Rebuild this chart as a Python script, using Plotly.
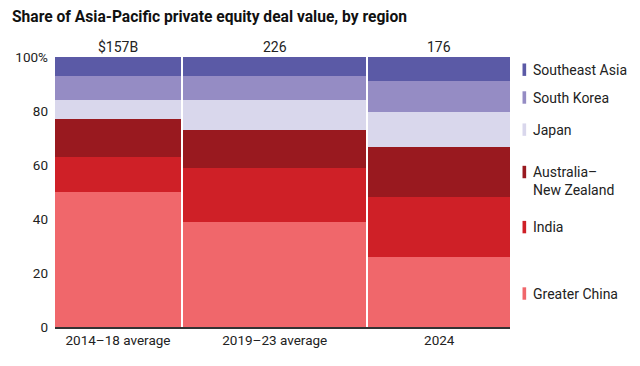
import plotly.graph_objects as go

# Data
categories = ["2014–18 average", "2019–23 average", "2024"]
totals = [157, 226, 176]               # total deal value, $B (bar widths)
total_labels = ["$157B", "226", "176"]
regions = ["Greater China", "India", "Australia–<br>New Zealand", "Japan", "South Korea", "Southeast Asia"]
shares = {
    "Greater China":  [50, 39, 26],
    "India":          [13, 20, 22],
    "Australia–<br>New Zealand": [14, 14, 18.5],
    "Japan":          [7, 11, 13],
    "South Korea":    [9, 9, 11.5],
    "Southeast Asia": [7, 7, 9],
}
colors = {
    "Greater China": "#f0676b",
    "India": "#cf2027",
    "Australia–<br>New Zealand": "#99191f",
    "Japan": "#d9d7ec",
    "South Korea": "#958cc4",
    "Southeast Asia": "#5b5aa6",
}
# legend label positions (in % units of the y axis)
legend_text_y = {
    "Southeast Asia": 95.3,
    "South Korea": 85.0,
    "Japan": 73.1,
    "Australia–<br>New Zealand": 54.2,
    "India": 37.0,
    "Greater China": 12.4,
}
legend_mark_y = {
    "Southeast Asia": 95.3,
    "South Korea": 85.0,
    "Japan": 73.1,
    "Australia–<br>New Zealand": 57.4,
    "India": 37.0,
    "Greater China": 12.4,
}

FONT = "Roboto"
TXT = "#222222"
gap = 3.0  # x-units of white gap between bars

starts = []
acc = 0
for t in totals:
    starts.append(acc)
    acc += t
total_sum = acc
mids = [s + t / 2 for s, t in zip(starts, totals)]

fig = go.Figure()
for r in regions:
    fig.add_trace(go.Bar(
        x=mids,
        y=shares[r],
        width=[t - gap for t in totals],
        offset=[-(t - gap) / 2 for t in totals],
        marker=dict(color=colors[r], line=dict(width=0)),
        name=r,
        showlegend=False,
        hoverinfo="skip",
    ))

annotations = []
for m, lab in zip(mids, total_labels):
    annotations.append(dict(x=m, y=100, xref="x", yref="y", text=lab, showarrow=False,
                            yanchor="bottom", yshift=0, font=dict(family=FONT, size=14, color=TXT)))

for r in regions:
    annotations.append(dict(x=1.0, y=legend_text_y[r], xref="paper", yref="y", text=r, showarrow=False,
                            xanchor="left", yanchor="middle", xshift=21,
                            align="left",
                            font=dict(family=FONT, size=14, color=TXT)))

shapes = []
for r in regions:
    ym = legend_mark_y[r]
    shapes.append(dict(type="rect", xref="paper", yref="y", x0=1.0275, x1=1.0355,
                       y0=ym - 2.3, y1=ym + 2.3, fillcolor=colors[r], line=dict(width=0)))

fig.update_layout(
    width=640, height=366,
    margin=dict(l=47, r=138, t=49, b=47, autoexpand=False),
    paper_bgcolor="white", plot_bgcolor="white",
    barmode="stack", bargap=0,
    title=dict(text="<b>Share of Asia-Pacific private equity deal value, by region</b>",
               x=4 / 640, xref="container", xanchor="left", y=1 - 8.5 / 366, yanchor="middle",
               font=dict(family=FONT, size=15.6, color="#111111"), pad=dict(l=0, t=0, b=0)),
    annotations=annotations,
    shapes=shapes,
    font=dict(family=FONT, size=13, color=TXT),
)

fig.update_xaxes(range=[gap / 2, total_sum - gap / 2], tickvals=mids, ticktext=categories,
                 automargin=False,
                 showgrid=False, zeroline=False, showline=True, linecolor="#333333", linewidth=1.5,
                 ticks="", tickfont=dict(family=FONT, size=13.5, color=TXT))
fig.update_yaxes(range=[0, 100], tickvals=[0, 20, 40, 60, 80, 100],
                 ticktext=["0", "20", "40", "60", "80", "100%"],
                 automargin=False,
                 showgrid=False, zeroline=False, showline=False, ticks="",
                 ticklabelstandoff=6,
                 tickfont=dict(family=FONT, size=13.5, color=TXT))

fig.write_html("out.html")
